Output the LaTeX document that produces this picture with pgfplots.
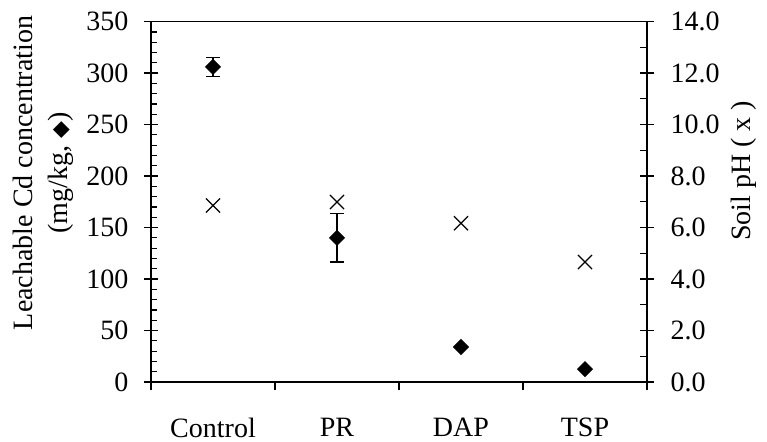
\documentclass[border=0pt]{standalone}
\usepackage{fontspec}
\setmainfont{Liberation Serif}
\newfontfamily\djv{DejaVu Sans}
\usepackage{pgfplots}
\pgfplotsset{compat=1.18}
\begin{document}
\fontsize{14}{17.5}\selectfont
\begin{tikzpicture}
\useasboundingbox (0,0) rectangle (383.5pt,220.5pt);
\pgfplotsset{
  common/.style={scale only axis, width=248pt, height=180.2pt,
    at={(75.5pt,29.5pt)}, anchor=south west,
    xmin=-0.5, xmax=3.5,
    axis line style={line width=0.6pt, black},
    every tick/.style={black, line width=0.6pt},
    /pgf/number format/assume math mode=true},
}
% frame and x axis
\begin{axis}[common, ymin=0, ymax=350, ytick=\empty,
  xtick={-0.5,0.5,1.5,2.5,3.5}, xticklabels={}, xtick pos=bottom,
  tick align=outside, major tick length=3.8pt,
  extra x ticks={0,1,2,3}, extra x tick labels={Control,PR,DAP,TSP},
  extra x tick style={major tick length=0pt, tick label style={yshift=-13pt}}]
\end{axis}
% left axis: leachable Cd
\begin{axis}[common, ymin=0, ymax=350, axis x line=none, axis y line*=left,
  ytick={0,50,...,350}, minor y tick num=4,
  tick align=inside, major tick length=7pt, minor tick length=3.25pt,
  major tick style={xshift=-3.5pt},
  yticklabel style={xshift=-6.5pt},
  ylabel={Leachable Cd concentration\\(mg/kg, {\djv\fontsize{11}{11}\selectfont ◆})},
  ylabel style={align=center, at={(axis description cs:-0.218,0.58)}, anchor=center}]
\addplot[only marks, mark=square*, mark size=2.65pt,
  mark options={rotate=45, fill=black, draw=black},
  error bars/.cd, y dir=both, y explicit,
  error mark options={rotate=90, mark size=3.5pt, line width=0.6pt, black},
  error bar style={line width=0.6pt, black}]
  coordinates {(0,306) +- (0,9.5) (1,140) +- (0,23.5)};
\addplot[only marks, mark=square*, mark size=2.65pt,
  mark options={rotate=45, fill=black, draw=black}]
  coordinates {(2,34) (3,12.5)};
\end{axis}
% right axis: soil pH
\begin{axis}[common, ymin=0, ymax=14, axis x line=none, axis y line*=right,
  ytick={0,2,...,14}, minor y tick num=1,
  tick align=inside, major tick length=7pt, minor tick length=3.25pt,
  major tick style={xshift=3.5pt},
  yticklabel style={xshift=7pt, /pgf/number format/.cd, fixed, fixed zerofill, precision=1},
  ylabel={Soil pH ( x )},
  ylabel style={at={(axis description cs:1.1956,0.586)}, anchor=center}]
\addplot[only marks, mark=x, mark size=5pt, mark options={line width=0.6pt, black}]
  coordinates {(0,6.86) (1,6.99) (2,6.17) (3,4.66)};
\end{axis}
\end{tikzpicture}
\end{document}
